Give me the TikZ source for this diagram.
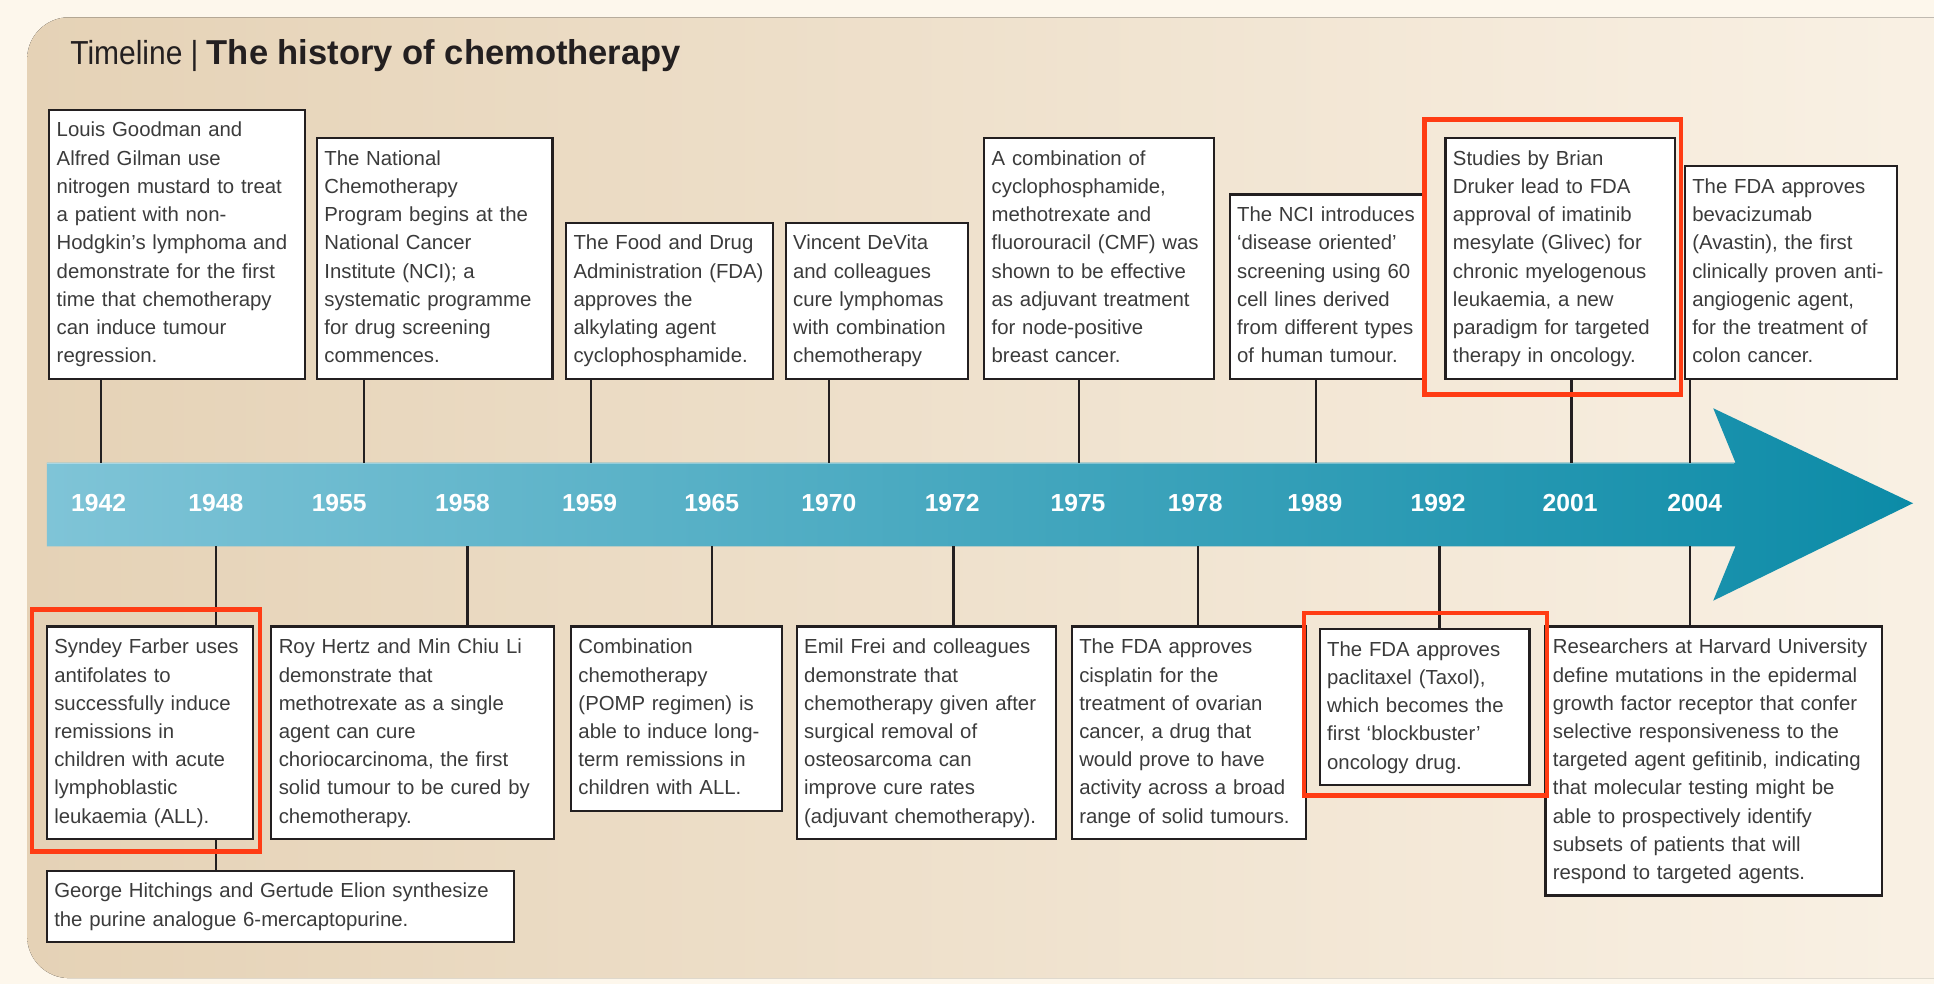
\documentclass[tikz,border=0pt]{standalone}
\usepackage{fontspec}
\setmainfont{Liberation Sans}
\newfontfamily\lightfont{Liberation Sans}[FakeStretch=0.9]
\usepackage{xcolor}
\usetikzlibrary{calc,positioning}

\definecolor{pagecream}{HTML}{FDF7EC}
\definecolor{paneltan}{HTML}{E5D2B6}
\definecolor{panelpale}{HTML}{FAF2E6}
\definecolor{bandlight}{HTML}{7FC4D7}
\definecolor{bandmid}{HTML}{17A2BF}
\definecolor{banddark}{HTML}{0C8BA7}
\definecolor{boxline}{HTML}{231F20}
\definecolor{boxtext}{HTML}{3B3B3B}
\definecolor{markred}{HTML}{FF3C14}

\begin{document}
\begin{tikzpicture}[
    x=1pt, y=-1pt,
    every node/.style={inner sep=0pt, outer sep=0pt},
    event/.style={draw=boxline, line width=1.8pt, fill=white,
        text=boxtext, align=left, inner xsep=6pt, inner ysep=6pt,
        font=\fontsize{16.5}{22.9}\selectfont,
        execute at begin node=\strut, execute at end node=\strut},
    year/.style={text=white, font=\bfseries\fontsize{20}{24}\selectfont},
    tick/.style={draw=boxline, line width=1.8pt},
    redframe/.style={draw=markred, line width=3.6pt}
]

% Background
\useasboundingbox (0,0) rectangle (1568,798);
\fill[pagecream] (0,0) rectangle (1568,798);
\fill[left color=paneltan, right color=panelpale, rounded corners=34pt]
    (22,14) rectangle (1640,793);

% Title
\node[anchor=base west, text=boxline] (title) at (57,52)
    {{\lightfont\fontsize{27}{30}\selectfont Timeline | }%
     \fontsize{28}{30}\selectfont\bfseries The history of chemotherapy};

% Time arrow
\shade[left color=bandlight, middle color=bandmid, right color=banddark]
    (38,375) -- (1407,375) -- (1389,331) -- (1551,408)
    -- (1389,487) -- (1407,443) -- (38,443) -- cycle;
\draw[white, opacity=0.35, line width=1.2pt]
    (38,375.6) -- (1406,375.6);

% Years
\node[year] (y1942) at (80,408) {1942};
\node[year] (y1948) at (175,408) {1948};
\node[year] (y1955) at (275,408) {1955};
\node[year] (y1958) at (375,408) {1958};
\node[year] (y1959) at (478,408) {1959};
\node[year] (y1965) at (577,408) {1965};
\node[year] (y1970) at (672,408) {1970};
\node[year] (y1972) at (772,408) {1972};
\node[year] (y1975) at (874,408) {1975};
\node[year] (y1978) at (969,408) {1978};
\node[year] (y1989) at (1066,408) {1989};
\node[year] (y1992) at (1166,408) {1992};
\node[year] (y2001) at (1273,408) {2001};
\node[year] (y2004) at (1374,408) {2004};

% Attachment points on the arrow edges
\coordinate (c1942) at (82,375);
\coordinate (c1955) at (295,375);
\coordinate (c1959) at (479,375);
\coordinate (c1970) at (672,375);
\coordinate (c1975) at (875,375);
\coordinate (c1989) at (1067,375);
\coordinate (c2001) at (1274,375);
\coordinate (c2004) at (1370,375);
\coordinate (d1948) at (175,443);
\coordinate (d1958) at (379,443);
\coordinate (d1965) at (577,443);
\coordinate (d1972) at (773,443);
\coordinate (d1978) at (971,443);
\coordinate (d1992) at (1167,443);
\coordinate (d2004) at (1370,443);

% Events above the arrow
\node[event, text width=195pt, anchor=south west] (goodman) at (40,307)
    {Louis Goodman and\\Alfred Gilman use\\nitrogen mustard to treat\\
     a patient with non-\\Hodgkin's lymphoma and\\demonstrate for the first\\
     time that chemotherapy\\can induce tumour\\regression.};
\node[event, text width=179pt, anchor=south west] (ncp) at (257,307)
    {The National\\Chemotherapy\\Program begins at the\\National Cancer\\
     Institute (NCI); a\\systematic programme\\for drug screening\\commences.};
\node[event, text width=156pt, anchor=south west] (fda) at (459,307)
    {The Food and Drug\\Administration (FDA)\\approves the\\alkylating agent\\
     cyclophosphamide.};
\node[event, text width=136pt, anchor=south west] (devita) at (637,307)
    {Vincent DeVita\\and colleagues\\cure lymphomas\\with combination\\
     chemotherapy};
\node[event, text width=174pt, anchor=south west] (cmf) at (798,307)
    {A combination of\\cyclophosphamide,\\methotrexate and\\
     fluorouracil (CMF) was\\shown to be effective\\as adjuvant treatment\\
     for node-positive\\breast cancer.};
\node[event, text width=145pt, anchor=south west] (nci) at (997,307)
    {The NCI introduces\\`disease oriented'\\screening using 60\\
     cell lines derived\\from different types\\of human tumour.};
\node[event, text width=174pt, anchor=south west] (druker) at (1172,307)
    {Studies by Brian\\Druker lead to FDA\\approval of imatinib\\
     mesylate (Glivec) for\\chronic myelogenous\\leukaemia, a new\\
     paradigm for targeted\\therapy in oncology.};
\node[event, text width=160pt, anchor=south west] (avastin) at (1366,307)
    {The FDA approves\\bevacizumab\\(Avastin), the first\\
     clinically proven anti-\\angiogenic agent,\\for the treatment of\\
     colon cancer.};

% Events below the arrow
\node[event, text width=155pt, anchor=north west] (farber) at (38,508)
    {Syndey Farber uses\\antifolates to\\successfully induce\\remissions in\\
     children with acute\\lymphoblastic\\leukaemia (ALL).};
\node[event, text width=367pt, anchor=north west] (hitchings) at (38,706)
    {George Hitchings and Gertude Elion synthesize\\
     the purine analogue 6-mercaptopurine.};
\node[event, text width=217pt, anchor=north west] (hertz) at (220,508)
    {Roy Hertz and Min Chiu Li\\demonstrate that\\methotrexate as a single\\
     agent can cure\\choriocarcinoma, the first\\solid tumour to be cured by\\
     chemotherapy.};
\node[event, text width=159pt, anchor=north west] (pomp) at (463,508)
    {Combination\\chemotherapy\\(POMP regimen) is\\able to induce long-\\
     term remissions in\\children with ALL.};
\node[event, text width=198pt, anchor=north west] (frei) at (646,508)
    {Emil Frei and colleagues\\demonstrate that\\chemotherapy given after\\
     surgical removal of\\osteosarcoma can\\improve cure rates\\
     (adjuvant chemotherapy).};
\node[event, text width=178pt, anchor=north west] (cisplatin) at (869,508)
    {The FDA approves\\cisplatin for the\\treatment of ovarian\\
     cancer, a drug that\\would prove to have\\activity across a broad\\
     range of solid tumours.};
\node[event, text width=158pt, anchor=north west] (taxol) at (1070,510)
    {The FDA approves\\paclitaxel (Taxol),\\which becomes the\\
     first `blockbuster'\\oncology drug.};
\node[event, text width=261pt, anchor=north west] (harvard) at (1253,508)
    {Researchers at Harvard University\\define mutations in the epidermal\\
     growth factor receptor that confer\\selective responsiveness to the\\
     targeted agent gefitinib, indicating\\that molecular testing might be\\
     able to prospectively identify\\subsets of patients that will\\
     respond to targeted agents.};

% Connectors to the arrow
\draw[tick] (c1942 |- goodman.south) -- (c1942);
\draw[tick] (c1955 |- ncp.south) -- (c1955);
\draw[tick] (c1959 |- fda.south) -- (c1959);
\draw[tick] (c1970 |- devita.south) -- (c1970);
\draw[tick] (c1975 |- cmf.south) -- (c1975);
\draw[tick] (c1989 |- nci.south) -- (c1989);
\draw[tick] (c2001 |- druker.south) -- (c2001);
\draw[tick] (c2004 |- avastin.south) -- (c2004);

\draw[tick] (d1948) -- (d1948 |- farber.north);
\draw[tick] (d1948 |- farber.south) -- (d1948 |- hitchings.north);
\draw[tick] (d1958) -- (d1958 |- hertz.north);
\draw[tick] (d1965) -- (d1965 |- pomp.north);
\draw[tick] (d1972) -- (d1972 |- frei.north);
\draw[tick] (d1978) -- (d1978 |- cisplatin.north);
\draw[tick] (d1992) -- (d1992 |- taxol.north);
\draw[tick] (d2004) -- (d2004 |- harvard.north);

% Highlight frames
\draw[redframe]
    ([shift={(-12pt,14pt)}]farber.north west)
    rectangle
    ([shift={(6pt,-10pt)}]farber.south east);
\draw[redframe]
    ([shift={(-17pt,15pt)}]druker.north west)
    rectangle
    ([shift={(5pt,-13pt)}]druker.south east);
\draw[redframe]
    ([shift={(-13pt,13pt)}]taxol.north west)
    rectangle
    ([shift={(14pt,-8.5pt)}]taxol.south east);

\end{tikzpicture}
\end{document}
